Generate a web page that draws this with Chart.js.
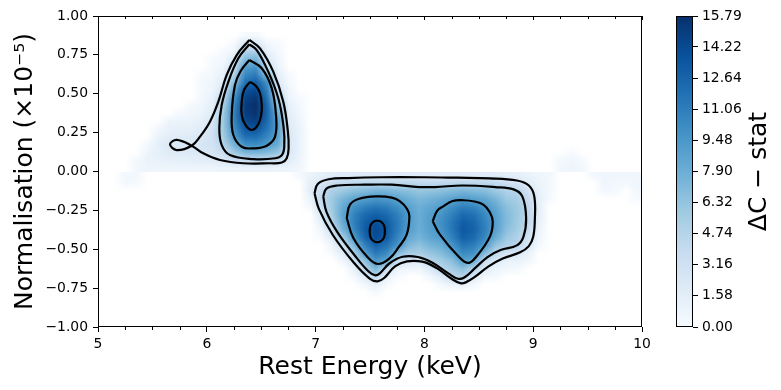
<!DOCTYPE html>
<html>
<head>
<meta charset="utf-8">
<script src="https://cdn.jsdelivr.net/npm/chart.js@4.4.1/dist/chart.umd.min.js"></script>
<style>
  html, body { margin: 0; padding: 0; background: #fff; }
  #wrap { position: relative; width: 781px; height: 390px; }
  #main { position: absolute; left: 0; top: 0; }
  #cbar { position: absolute; left: 660px; top: 0; }
</style>
</head>
<body>
<div id="wrap">
  <canvas id="main" width="660" height="390"></canvas>
  <canvas id="cbar" width="121" height="390"></canvas>
</div>
<script>
// grid of Delta C-stat (cell centres)
const energyCentres = [5.05, 5.15, 5.25, 5.35, 5.45, 5.55, 5.65, 5.75, 5.85, 5.95,
  6.05, 6.15, 6.25, 6.35, 6.45, 6.55, 6.65, 6.75, 6.85, 6.95,
  7.05, 7.15, 7.25, 7.35, 7.45, 7.55, 7.65, 7.75, 7.85, 7.95,
  8.05, 8.15, 8.25, 8.35, 8.45, 8.55, 8.65, 8.75, 8.85, 8.95,
  9.05, 9.15, 9.25, 9.35, 9.45, 9.55, 9.65, 9.75, 9.85, 9.95];
const normUpper = [0.875, 0.825, 0.775, 0.725, 0.675, 0.625, 0.575, 0.525, 0.475,
  0.425, 0.375, 0.325, 0.275, 0.225, 0.175, 0.125, 0.075, 0.025];
const normLower = [-0.025, -0.075, -0.125, -0.175, -0.225, -0.275, -0.325, -0.375, -0.425,
  -0.475, -0.525, -0.575, -0.625, -0.675, -0.725, -0.775, -0.825, -0.875];

const deltaCUpper = [
  [0,0,0,0,0,0,0,0,0,0, 0,0,0,0.1,0.3,0,0,0,0,0, 0,0,0,0,0,0,0,0,0,0, 0,0,0,0,0,0,0,0,0,0, 0,0,0,0,0,0,0,0,0,0],
  [0,0,0,0,0,0,0,0,0,0, 0,0,0.1,2.4,2.4,0.5,0.1,0,0,0, 0,0,0,0,0,0,0,0,0,0, 0,0,0,0,0,0,0,0,0,0, 0,0,0,0,0,0,0,0,0,0],
  [0,0,0,0,0,0,0,0,0,0, 0,0.1,0.6,4.8,5.0,1.3,0.3,0,0,0, 0,0,0,0,0,0,0,0,0,0, 0,0,0,0,0,0,0,0,0,0, 0,0,0,0,0,0,0,0,0,0],
  [0,0,0,0,0,0,0,0,0,0, 0.1,0.3,2.1,6.8,7.4,2.2,0.6,0,0,0, 0,0,0,0,0,0,0,0,0,0, 0,0,0,0,0,0,0,0,0,0, 0,0,0,0,0,0,0,0,0,0],
  [0,0,0,0,0,0,0,0,0,0, 0.2,0.7,3.6,8.9,9.6,3.6,1.0,0,0,0, 0,0,0,0,0,0,0,0,0,0, 0,0,0,0,0,0,0,0,0,0, 0,0,0,0,0,0,0,0,0,0],
  [0,0,0,0,0,0,0,0,0,0.1, 0.4,1.2,5.1,10.4,11.2,6.4,1.5,0.1,0,0, 0,0,0,0,0,0,0,0,0,0, 0,0,0,0,0,0,0,0,0,0, 0,0,0,0,0,0,0,0,0,0],
  [0,0,0,0,0,0,0,0,0,0.2, 0.6,1.9,6.8,11.8,12.8,10.0,2.1,0.3,0,0, 0,0,0,0,0,0,0,0,0,0, 0,0,0,0,0,0,0,0,0,0, 0,0,0,0,0,0,0,0,0,0],
  [0,0,0,0,0,0,0,0,0,0.3, 0.8,2.6,8.4,13.6,14.3,10.8,3.2,0.6,0,0, 0,0,0,0,0,0,0,0,0,0, 0,0,0,0,0,0,0,0,0,0, 0,0,0,0,0,0,0,0,0,0],
  [0,0,0,0,0,0,0,0,0,0.4, 1.1,4.3,9.9,14.6,15.3,11.8,4.7,0.9,0.1,0, 0,0,0,0,0,0,0,0,0,0, 0,0,0,0,0,0,0,0,0,0, 0,0,0,0,0,0,0,0,0,0],
  [0,0,0,0,0,0,0,0,0.2,0.6, 1.5,5.2,10.6,15.0,15.79,12.4,6.5,1.3,0.3,0, 0,0,0,0,0,0,0,0,0,0, 0,0,0,0,0,0,0,0,0,0, 0,0,0,0,0,0,0,0,0,0],
  [0,0,0,0,0,0,0,0.2,0.5,0.9, 2.0,5.8,10.9,14.9,15.6,12.6,8.0,1.6,0.5,0, 0,0,0,0,0,0,0,0,0,0, 0,0,0,0,0,0,0,0,0,0, 0,0,0,0,0,0,0,0,0,0],
  [0,0,0,0,0,0,0.8,0.9,1.0,1.3, 2.6,6.0,10.7,14.3,14.9,12.3,8.8,1.9,0.7,0, 0,0,0,0,0,0,0,0,0,0, 0,0,0,0,0,0,0,0,0,0, 0,0,0,0,0,0,0,0,0,0],
  [0,0,0,0,0,0.5,1.2,1.3,1.4,1.8, 3.0,5.9,10.1,13.3,13.5,11.6,9.0,2.2,0.9,0, 0,0,0,0,0,0,0,0,0,0, 0,0,0,0,0,0,0,0,0,0, 0,0,0,0,0,0,0,0,0,0],
  [0,0,0,0,0,1.0,1.6,1.8,1.9,2.3, 3.2,5.6,9.1,11.9,12.0,10.6,8.7,2.4,1.0,0, 0,0,0,0,0,0,0,0,0,0, 0,0,0,0,0,0,0,0,0,0, 0,0,0,0,0,0,0,0,0,0],
  [0,0,0,0,0.3,1.4,2.2,2.4,2.3,2.6, 3.0,4.7,7.6,10.0,10.2,9.4,8.0,2.4,1.0,0, 0,0,0,0,0,0,0,0,0,0, 0,0,0,0,0,0,0,0,0,0, 0,0,0,0,0,0,0,0,0,0],
  [0,0,0,0,0.7,1.4,1.9,2.0,2.1,2.3, 2.6,3.5,5.7,7.3,7.4,7.0,6.2,2.4,1.0,0, 0,0,0,0,0,0,0,0,0,0, 0,0,0,0,0,0,0,0,0,0, 0,0,0,0.1,0,0,0,0,0,0],
  [0,0,0,0.2,0.9,1.1,1.3,1.4,1.5,1.6, 1.8,2.3,3.4,4.1,4.2,4.1,3.6,1.9,0.8,0, 0,0,0,0,0,0,0,0,0,0, 0,0,0,0,0,0,0,0,0,0, 0,0,0.3,0.6,0.1,0,0,0,0,0],
  [0,0,0,0.4,0.7,0.7,0.7,0.7,0.7,0.7, 0.7,0.8,0.9,1.0,1.0,1.0,0.9,0.8,0.5,0, 0,0,0,0,0,0,0,0,0,0, 0,0,0,0,0,0,0,0,0,0, 0,0,0.5,0.7,0.4,0,0,0,0,0]
];

const deltaCLower = [
  [0,0,0.4,0.4,0,0,0,0,0,0, 0,0,0,0,0,0,0,0,0.3,0.9, 1.4,1.7,1.9,1.9,2.0,2.0,2.0,1.9,1.9,1.9, 1.9,1.9,1.9,1.9,1.9,1.9,1.8,1.6,1.4,1.0, 0.6,0.4,0,0,0,0.4,0.6,0.6,0.6,0.6],
  [0,0,0.2,0.1,0,0,0,0,0,0, 0,0,0,0,0,0,0,0,0,1.4, 2.6,3.6,4.2,4.4,4.5,4.6,4.6,4.5,4.5,4.4, 4.3,4.4,4.5,4.6,4.5,4.4,4.1,3.4,2.8,1.9, 0.9,0.3,0,0,0,0,0.6,0.4,0.3,0.6],
  [0,0,0,0,0,0,0,0,0,0, 0,0,0,0,0,0,0,0,0,1.7, 3.8,5.2,6.0,6.6,7.0,7.5,7.4,7.0,6.6,6.2, 6.3,6.6,7.0,7.3,7.1,6.8,6.0,5.0,4.6,3.0, 1.2,0.2,0,0,0,0,0.4,0.2,0,0.4],
  [0,0,0,0,0,0,0,0,0,0, 0,0,0,0,0,0,0,0,0,0.9, 4.2,5.9,7.4,8.5,9.1,9.6,9.4,8.7,7.9,7.2, 7.6,8.1,8.7,9.2,8.9,8.4,7.4,6.0,5.4,3.9, 1.4,0.1,0,0,0,0,0,0,0,0.1],
  [0,0,0,0,0,0,0,0,0,0, 0,0,0,0,0,0,0,0,0,0.2, 3.5,6.0,8.2,9.8,10.9,11.4,11.0,10.0,8.7,7.8, 8.4,9.0,10.0,10.9,10.5,9.5,8.3,6.6,5.8,4.3, 1.4,0,0,0,0,0,0,0,0,0],
  [0,0,0,0,0,0,0,0,0,0, 0,0,0,0,0,0,0,0,0,0, 2.5,5.6,8.5,10.7,12.2,12.8,12.3,10.9,9.2,8.0, 8.9,9.6,10.9,12.2,11.8,10.4,8.8,7.0,5.9,4.4, 1.3,0,0,0,0,0,0,0,0,0],
  [0,0,0,0,0,0,0,0,0,0, 0,0,0,0,0,0,0,0,0,0, 1.4,4.8,8.3,11.0,12.9,13.8,13.1,11.3,9.2,8.0, 9.0,9.9,11.4,13.0,12.5,10.9,9.0,7.0,5.8,4.3, 1.2,0,0,0,0,0,0,0,0,0],
  [0,0,0,0,0,0,0,0,0,0, 0,0,0,0,0,0,0,0,0,0, 0.6,3.4,7.4,10.4,13.1,14.3,13.4,11.2,9.0,7.9, 8.9,9.7,11.4,13.3,12.7,11.0,8.8,6.7,5.5,3.8, 0.9,0,0,0,0,0,0,0,0,0],
  [0,0,0,0,0,0,0,0,0,0, 0,0,0,0,0,0,0,0,0,0, 0.1,1.8,5.5,9.2,12.4,14.0,13.0,10.6,8.3,7.4, 8.4,9.0,10.8,12.8,12.2,10.4,8.0,6.0,5.0,3.0, 0.6,0,0,0,0,0,0,0,0,0],
  [0,0,0,0,0,0,0,0,0,0, 0,0,0,0,0,0,0,0,0,0, 0,0.7,3.3,7.2,10.8,12.8,11.8,9.6,7.2,6.5, 7.4,8.0,9.6,11.6,11.1,9.3,6.4,5.0,4.5,2.2, 0.3,0,0,0,0,0,0,0,0,0],
  [0,0,0,0,0,0,0,0,0,0, 0,0,0,0,0,0,0,0,0,0, 0,0.1,1.8,4.9,9.0,11.3,10.3,6.8,5.4,5.2, 6.1,6.8,8.2,10.2,9.8,7.0,4.2,2.6,2.2,1.2, 0,0,0,0,0,0,0,0,0,0],
  [0,0,0,0,0,0,0,0,0,0, 0,0,0,0,0,0,0,0,0,0, 0,0,0.5,2.7,6.5,9.6,8.4,3.2,2.2,2.0, 4.8,5.6,6.6,8.9,8.0,3.6,2.1,1.2,1.0,0.5, 0,0,0,0,0,0,0,0,0,0],
  [0,0,0,0,0,0,0,0,0,0, 0,0,0,0,0,0,0,0,0,0, 0,0,0,1.0,4.4,7.2,3.3,0.8,0.6,0.6, 2.0,4.4,5.4,6.5,4.6,1.8,0.8,0.4,0.3,0, 0,0,0,0,0,0,0,0,0,0],
  [0,0,0,0,0,0,0,0,0,0, 0,0,0,0,0,0,0,0,0,0, 0,0,0,0.2,2.0,4.2,1.0,0.1,0,0, 0.6,1.8,4.4,4.7,2.1,0.4,0.2,0,0,0, 0,0,0,0,0,0,0,0,0,0],
  [0,0,0,0,0,0,0,0,0,0, 0,0,0,0,0,0,0,0,0,0, 0,0,0,0,0.5,1.4,0.2,0,0,0, 0,0.3,1.0,1.3,0.4,0,0,0,0,0, 0,0,0,0,0,0,0,0,0,0],
  [0,0,0,0,0,0,0,0,0,0, 0,0,0,0,0,0,0,0,0,0, 0,0,0,0,0,0.3,0,0,0,0, 0,0,0,0,0,0,0,0,0,0, 0,0,0,0,0,0,0,0,0,0],
  [0,0,0,0,0,0,0,0,0,0, 0,0,0,0,0,0,0,0,0,0, 0,0,0,0,0,0,0,0,0,0, 0,0,0,0,0,0,0,0,0,0, 0,0,0,0,0,0,0,0,0,0],
  [0,0,0,0,0,0,0,0,0,0, 0,0,0,0,0,0,0,0,0,0, 0,0,0,0,0,0,0,0,0,0, 0,0,0,0,0,0,0,0,0,0, 0,0,0,0,0,0,0,0,0,0]
];
const deltaCMax = 15.79;

// contour lines [energy, norm]
const contourEmission1 = [[6.391,0.846],[6.489,0.792],[6.611,0.642],[6.703,0.449],[6.745,0.260],[6.752,0.150],
  [6.735,0.085],[6.690,0.058],[6.581,0.053],[6.335,0.053],[6.121,0.074],[5.968,0.117],[5.861,0.166],[5.723,0.203],
  [5.662,0.175],[5.723,0.138],[5.861,0.166],[5.9375,0.224],[6.029,0.320],[6.106,0.449],[6.183,0.621],
  [6.275,0.749],[6.391,0.846]];
const contourEmission2 = [[6.391,0.818],[6.459,0.781],[6.565,0.642],[6.657,0.471],[6.705,0.290],[6.712,0.160],
  [6.690,0.105],[6.630,0.085],[6.427,0.080],[6.213,0.106],[6.137,0.170],[6.115,0.278],[6.137,0.428],[6.198,0.577],
  [6.290,0.728],[6.391,0.818]];
const contourEmission3 = [[6.391,0.717],[6.505,0.664],[6.597,0.535],[6.636,0.363],[6.627,0.224],[6.551,0.166],
  [6.427,0.149],[6.321,0.159],[6.244,0.235],[6.229,0.363],[6.259,0.556],[6.310,0.645],[6.391,0.717]];
const contourEmission4 = [[6.397,0.577],[6.452,0.550],[6.489,0.503],[6.505,0.430],[6.500,0.363],[6.470,0.300],
  [6.413,0.267],[6.355,0.300],[6.321,0.363],[6.321,0.449],[6.342,0.524],[6.397,0.577]];

const contourAbsorption1 = [[6.99,-0.14],[7.02,-0.08],[7.12,-0.05],[7.30,-0.042],[7.60,-0.037],[8.00,-0.037],
  [8.30,-0.04],[8.60,-0.044],[8.85,-0.058],[8.96,-0.09],[9.01,-0.16],[9.015,-0.31],[9.00,-0.42],[8.96,-0.48],
  [8.88,-0.52],[8.72,-0.56],[8.59,-0.61],[8.47,-0.675],[8.38,-0.713],[8.33,-0.718],[8.25,-0.69],[8.11,-0.62],
  [7.98,-0.58],[7.84,-0.578],[7.73,-0.61],[7.63,-0.685],[7.57,-0.706],[7.50,-0.69],[7.35,-0.585],[7.16,-0.41],
  [7.03,-0.24],[6.99,-0.14]];
const contourAbsorption2 = [[7.07,-0.16],[7.10,-0.11],[7.20,-0.09],[7.45,-0.085],[7.70,-0.085],[7.95,-0.10],
  [8.10,-0.10],[8.35,-0.09],[8.65,-0.10],[8.82,-0.115],[8.90,-0.16],[8.935,-0.30],[8.91,-0.42],[8.85,-0.475],
  [8.70,-0.505],[8.58,-0.55],[8.46,-0.625],[8.37,-0.68],[8.31,-0.69],[8.22,-0.655],[8.07,-0.585],[7.94,-0.55],
  [7.80,-0.548],[7.68,-0.59],[7.59,-0.655],[7.55,-0.668],[7.49,-0.645],[7.36,-0.54],[7.20,-0.39],[7.10,-0.26],
  [7.07,-0.16]];
const contourAbsorption3a = [[7.286,-0.299],[7.316,-0.213],[7.40,-0.175],[7.561,-0.16],[7.70,-0.168],[7.776,-0.192],
  [7.84,-0.24],[7.862,-0.288],[7.837,-0.406],[7.76,-0.49],[7.684,-0.556],[7.577,-0.595],[7.485,-0.556],
  [7.347,-0.428],[7.286,-0.299]];
const contourAbsorption3b = [[8.076,-0.32],[8.12,-0.25],[8.174,-0.224],[8.26,-0.19],[8.358,-0.185],[8.46,-0.193],
  [8.541,-0.213],[8.60,-0.26],[8.628,-0.32],[8.603,-0.417],[8.48,-0.545],[8.404,-0.588],[8.312,-0.545],
  [8.143,-0.406],[8.076,-0.32]];
const contourAbsorption4 = [[7.567,-0.315],[7.600,-0.322],[7.628,-0.345],[7.637,-0.385],[7.628,-0.425],
  [7.600,-0.448],[7.567,-0.455],[7.534,-0.448],[7.506,-0.425],[7.497,-0.385],[7.506,-0.345],[7.534,-0.322],
  [7.567,-0.315]];

const xTickValues = [5, 6, 7, 8, 9, 10];
const xTickLabels = ['5', '6', '7', '8', '9', '10'];
const yTickValues = [-1, -0.75, -0.5, -0.25, 0, 0.25, 0.5, 0.75, 1];
const yTickLabels = ['\u22121.00', '\u22120.75', '\u22120.50', '\u22120.25', '0.00', '0.25', '0.50', '0.75', '1.00'];
const cbarTicks = [0, 1.58, 3.16, 4.74, 6.32, 7.90, 9.48, 11.06, 12.64, 14.22, 15.79];
const cbarTickLabels = ['0.00', '1.58', '3.16', '4.74', '6.32', '7.90', '9.48', '11.06', '12.64', '14.22', '15.79'];

const xTitle = 'Rest Energy (keV)';
const yTitle = 'Normalisation (\u00d710\u207b\u2075)';
const cbarTitle = '\u0394C \u2212 stat';

// matplotlib "Blues"
const bluesStops = [[0, '#f7fbff'], [0.125, '#deebf7'], [0.25, '#c6dbef'], [0.375, '#9ecae1'],
  [0.5, '#6baed6'], [0.625, '#4292c6'], [0.75, '#2171b5'], [0.875, '#08519c'], [1, '#08306b']];
const FONT = '"DejaVu Sans"';
const tickFont = { family: FONT, size: 13.9 };

function hexRGB(h) {
  return [1, 3, 5].map(i => parseInt(h.slice(i, i + 2), 16));
}

function bluesRGB(t) {
  t = Math.min(1, Math.max(0, t));
  for (let i = 1; i < bluesStops.length; i++) {
    const [t1, c1] = bluesStops[i];
    if (t <= t1) {
      const [t0, c0] = bluesStops[i - 1];
      const f = (t - t0) / (t1 - t0);
      const a = hexRGB(c0), b = hexRGB(c1);
      return a.map((v, k) => Math.round(v + (b[k] - v) * f));
    }
  }
  return hexRGB(bluesStops[bluesStops.length - 1][1]);
}

// one pixel per grid cell, scaled up later by drawImage
function buildImage(rows) {
  const h = rows.length, w = rows[0].length;
  const c = document.createElement('canvas');
  c.width = w; c.height = h;
  const cx = c.getContext('2d');
  const img = cx.createImageData(w, h);
  rows.forEach((row, i) => row.forEach((v, j) => {
    const rgb = v > 0 ? bluesRGB(v / deltaCMax) : [255, 255, 255];
    const k = (i * w + j) * 4;
    img.data[k] = rgb[0]; img.data[k + 1] = rgb[1]; img.data[k + 2] = rgb[2]; img.data[k + 3] = 255;
  }));
  cx.putImageData(img, 0, 0);
  return c;
}

const upperImg = buildImage(deltaCUpper);
const lowerImg = buildImage(deltaCLower);

const heatPlugin = {
  id: 'heat',
  beforeDatasetsDraw(chart) {
    const { ctx, chartArea: a, scales: { x, y } } = chart;
    const dE = energyCentres[1] - energyCentres[0];
    const x0 = x.getPixelForValue(energyCentres[0] - dE / 2);
    const x1 = x.getPixelForValue(energyCentres[energyCentres.length - 1] + dE / 2);
    ctx.save();
    ctx.beginPath();
    ctx.rect(a.left, a.top, a.width, a.height);
    ctx.clip();
    ctx.imageSmoothingEnabled = true;
    ctx.imageSmoothingQuality = 'low';
    [[upperImg, normUpper], [lowerImg, normLower]].forEach(([img, rows]) => {
      const dN = Math.abs(rows[0] - rows[1]);
      const yTop = y.getPixelForValue(Math.max(...rows) + dN / 2);
      const yBot = y.getPixelForValue(Math.min(...rows) - dN / 2);
      ctx.drawImage(img, x0, yTop, x1 - x0, yBot - yTop);
    });
    ctx.restore();
  }
};

const framePlugin = {
  id: 'frame',
  afterDraw(chart) {
    const { ctx, chartArea: a, scales: { x } } = chart;
    ctx.save();
    ctx.strokeStyle = '#000';
    ctx.lineWidth = 1;
    ctx.strokeRect(Math.round(a.left) + 0.5, Math.round(a.top) + 0.5,
      Math.round(a.width) - 1, Math.round(a.height) - 1);

    // minor ticks below, all ticks inward on top
    ctx.beginPath();
    for (let v = x.min; v <= x.max + 1e-9; v += 0.25) {
      const px = Math.round(x.getPixelForValue(v)) + 0.5;
      const major = Math.abs(v - Math.round(v)) < 1e-9;
      ctx.moveTo(px, a.top);
      ctx.lineTo(px, a.top + (major ? 4 : 3));
      if (!major) {
        ctx.moveTo(px, a.bottom);
        ctx.lineTo(px, a.bottom + 3);
      }
    }
    ctx.stroke();

    ctx.fillStyle = '#000';
    ctx.font = '25px ' + FONT;
    ctx.textAlign = 'center';
    ctx.textBaseline = 'alphabetic';
    ctx.fillText(xTitle, (a.left + a.right) / 2, a.bottom + 47);
    ctx.translate(32, (a.top + a.bottom) / 2);
    ctx.rotate(-Math.PI / 2);
    ctx.fillText(yTitle, 0, 0);
    ctx.restore();
  }
};

const contourSets = [contourEmission1, contourEmission2, contourEmission3, contourEmission4,
  contourAbsorption1, contourAbsorption2, contourAbsorption3a, contourAbsorption3b, contourAbsorption4];

new Chart(document.getElementById('main'), {
  type: 'scatter',
  data: {
    datasets: contourSets.map(pts => ({
      data: pts,
      showLine: true,
      borderColor: '#000',
      borderWidth: 2.2,
      pointRadius: 0,
      tension: 0.4,
      fill: false
    }))
  },
  options: {
    responsive: false,
    animation: false,
    devicePixelRatio: 1,
    layout: { padding: { left: 0, top: 16, right: 18, bottom: 0 } },
    plugins: { legend: { display: false }, tooltip: { enabled: false } },
    scales: {
      x: {
        type: 'linear', min: 5, max: 10,
        afterBuildTicks: s => { s.ticks = xTickValues.map(v => ({ value: v })); },
        afterFit: s => { s.height = 63; },
        ticks: { color: '#000', font: tickFont, padding: 4, autoSkip: false, maxRotation: 0,
          callback: (v, i) => xTickLabels[i] },
        grid: { drawOnChartArea: false, color: '#000', tickLength: 5 },
        border: { display: false }
      },
      y: {
        type: 'linear', min: -1, max: 1,
        afterBuildTicks: s => { s.ticks = yTickValues.map(v => ({ value: v })); },
        afterFit: s => { s.width = 98; },
        ticks: { color: '#000', font: tickFont, padding: 5, autoSkip: false,
          callback: (v, i) => yTickLabels[i] },
        grid: { drawOnChartArea: false, color: '#000', tickLength: 5 },
        border: { display: false }
      }
    }
  },
  plugins: [heatPlugin, framePlugin]
});

// colour bar
const cbarPlugin = {
  id: 'cbarFrame',
  afterDraw(chart) {
    const { ctx, chartArea: a } = chart;
    ctx.save();
    ctx.strokeStyle = '#000';
    ctx.lineWidth = 1;
    ctx.strokeRect(Math.round(a.left) + 0.5, Math.round(a.top) + 0.5,
      Math.round(a.width) - 1, Math.round(a.height) - 1);
    ctx.fillStyle = '#000';
    ctx.font = '25px ' + FONT;
    ctx.textAlign = 'center';
    ctx.textBaseline = 'alphabetic';
    ctx.translate(106, (a.top + a.bottom) / 2);
    ctx.rotate(-Math.PI / 2);
    ctx.fillText(cbarTitle, 0, 0);
    ctx.restore();
  }
};

new Chart(document.getElementById('cbar'), {
  type: 'bar',
  data: {
    labels: ['dC'],
    datasets: [{
      data: [[0, deltaCMax]],
      borderWidth: 0,
      barPercentage: 1,
      categoryPercentage: 1,
      backgroundColor(context) {
        const { ctx, chartArea } = context.chart;
        if (!chartArea) return 'transparent';
        const g = ctx.createLinearGradient(0, chartArea.bottom, 0, chartArea.top);
        bluesStops.forEach(([t, c]) => g.addColorStop(t, c));
        return g;
      }
    }]
  },
  options: {
    responsive: false,
    animation: false,
    devicePixelRatio: 1,
    layout: { padding: { left: 16, top: 16, right: 0, bottom: 63 } },
    plugins: { legend: { display: false }, tooltip: { enabled: false } },
    scales: {
      x: { display: false },
      y: {
        position: 'right', min: 0, max: deltaCMax,
        afterBuildTicks: s => { s.ticks = cbarTicks.map(v => ({ value: v })); },
        afterFit: s => { s.width = 88; },
        ticks: { color: '#000', font: tickFont, padding: 4, autoSkip: false,
          callback: (v, i) => cbarTickLabels[i] },
        grid: { drawOnChartArea: false, color: '#000', tickLength: 5 },
        border: { display: false }
      }
    }
  },
  plugins: [cbarPlugin]
});
</script>
</body>
</html>
